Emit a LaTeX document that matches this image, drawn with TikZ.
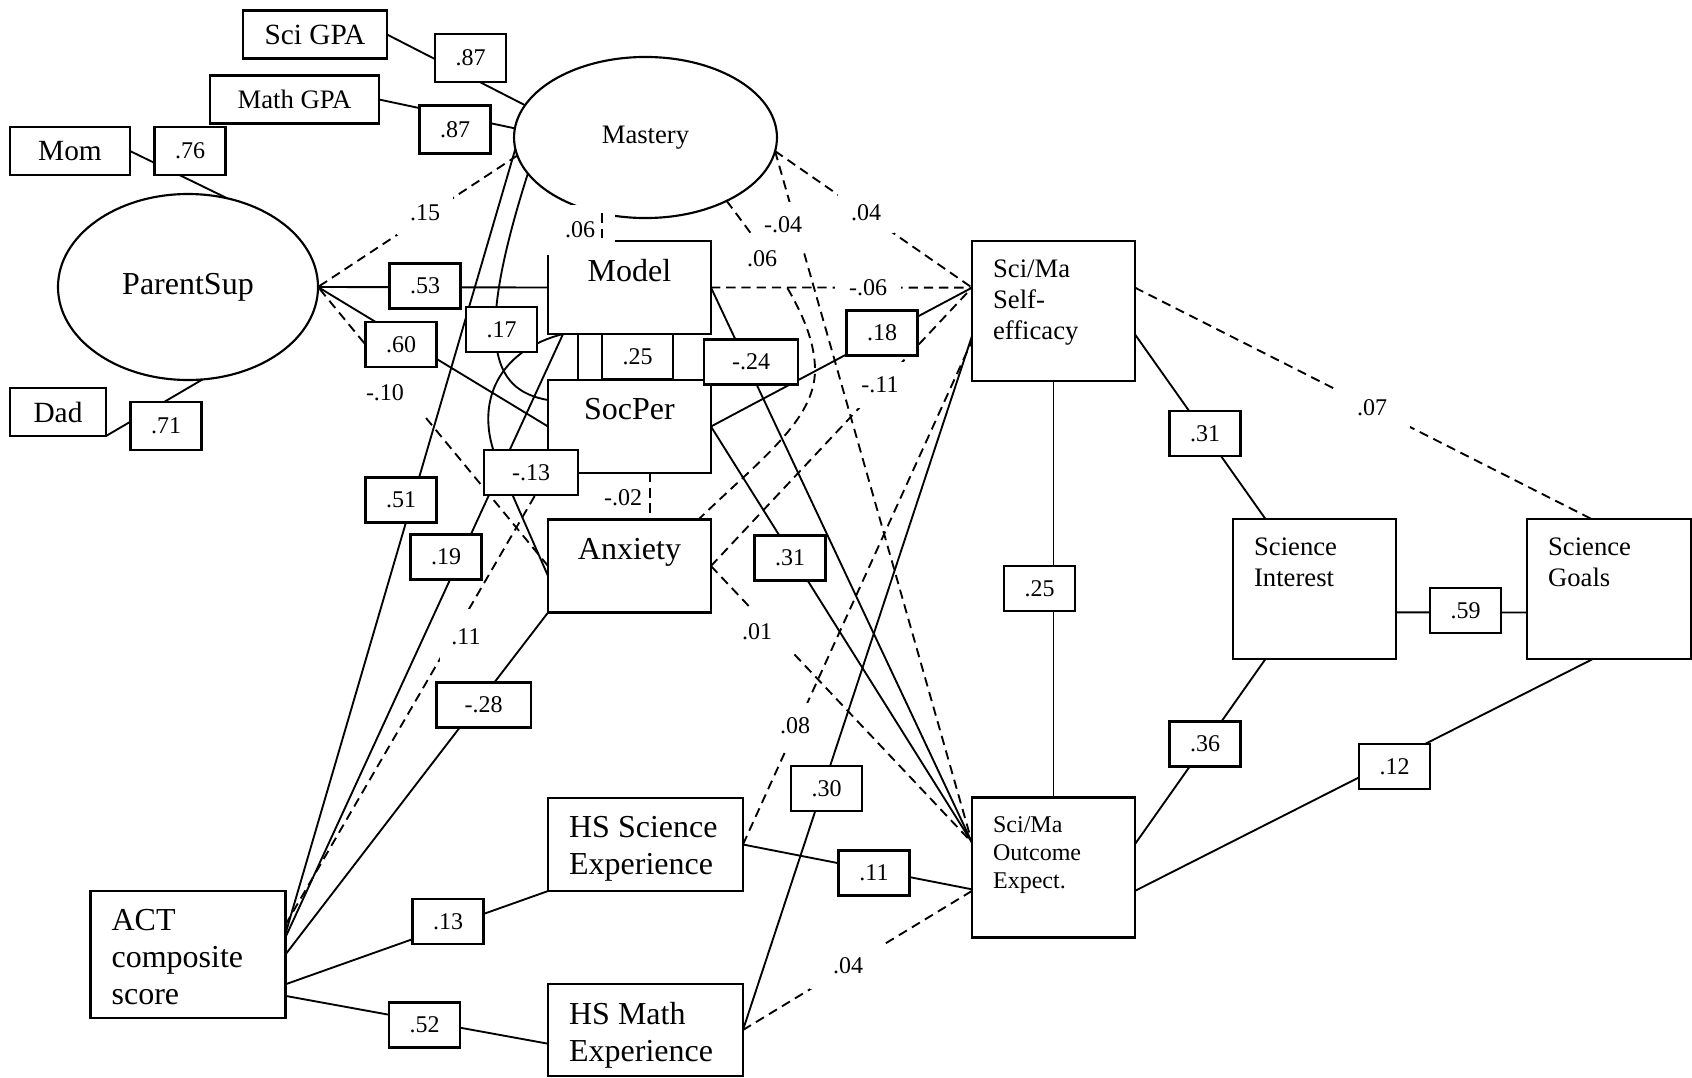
\documentclass[tikz,border=0pt]{standalone}
\usepackage{fontspec}
\setmainfont{Liberation Serif}
\usetikzlibrary{shapes.geometric}
\newcommand{\fbig}{\fontsize{12}{13.8}\selectfont}
\newcommand{\fmid}{\fontsize{10}{11.6}\selectfont}
\newcommand{\fsml}{\fontsize{9}{10.5}\selectfont}
\newcommand{\fgpa}{\fontsize{11}{12.6}\selectfont}
\tikzset{var/.style = {draw, line width=0.8pt, inner sep=0pt, outer sep=0pt,
                       minimum width=61.1pt, minimum height=34.9pt}}
\tikzset{tallvar/.style = {var, minimum height=52.5pt}}
\tikzset{widevar/.style = {var, minimum width=73.1pt}}
\tikzset{obs/.style = {draw, line width=0.8pt, inner sep=0pt, outer sep=0pt,
                       minimum height=18pt, font=\fgpa}}
\tikzset{latent/.style = {draw, ellipse, line width=0.8pt, inner sep=0pt, outer sep=0pt}}
\tikzset{toptext/.style = {anchor=north, inner sep=0pt, yshift=-6.8pt, font=\fbig}}
\tikzset{intext/.style = {anchor=north west, align=left, inner xsep=7.7pt, inner ysep=6.8pt}}
\tikzset{val/.style = {draw, fill=white, line width=0.8pt, inner sep=0pt,
                       minimum width=26.6pt, minimum height=16.9pt, font=\fsml}}
\tikzset{wideval/.style = {val, minimum width=35.3pt}}
\tikzset{free/.style 2 args = {fill=white, inner sep=0pt, minimum width=#1,
                               minimum height=#2, font=\fsml}}
\tikzset{link/.style = {line width=0.7pt}}
\tikzset{dlink/.style = {link, dash pattern=on 3.5pt off 2.2pt}}

\begin{document}
\begin{tikzpicture}[x=0.375pt, y=-0.375pt]
    \useasboundingbox (0,0) rectangle (1692,1078);

    \node [obs, minimum width=54pt] (scigpa) at (315,34.5) {Sci GPA};
    \node [obs, minimum width=63.4pt, font=\fmid] (mathgpa) at (294.5,99.5) {Math GPA};
    \node [obs, minimum width=45pt] (mom) at (70,151) {Mom};
    \node [obs, minimum width=36pt] (dad) at (58,412) {Dad};
    \node [latent, minimum width=97.5pt, minimum height=69.75pt, font=\fbig] (parent) at (188,287) {ParentSup};
    \node [latent, minimum width=98.6pt, minimum height=60.4pt, font=\fmid] (mastery) at (645.5,137.5) {Mastery};

    \node [var] (model) at (629.5,287.5) {};
    \node [toptext] (model-t) at (model.north) {Model};
    \node [var] (socper) at (629.5,426.5) {};
    \node [toptext] (socper-t) at (socper.north) {SocPer};
    \node [var] (anxiety) at (629.5,566) {};
    \node [toptext] (anxiety-t) at (anxiety.north) {Anxiety};

    \node [widevar] (hssci) at (645.5,844.5) {};
    \node [intext, font=\fbig] (hssci-t) at (hssci.north west) {HS Science\\Experience};
    \node [widevar, minimum height=34.5pt] (hsmath) at (645.5,1030) {};
    \node [intext, font=\fbig] (hsmath-t) at (hsmath.north west) {HS Math\\Experience};
    \node [widevar, minimum height=47.6pt] (act) at (188,954.5) {};
    \node [intext, font=\fbig] (act-t) at (act.north west) {ACT\\composite\\score};

    \node [tallvar] (selfeff) at (1053.5,311) {};
    \node [intext, font=\fmid] (selfeff-t) at (selfeff.north west) {Sci/Ma\\Self-\\efficacy};
    \node [tallvar] (outcome) at (1053.5,867.5) {};
    \node [intext, font=\fsml] (outcome-t) at (outcome.north west) {Sci/Ma\\Outcome\\Expect.};
    \node [tallvar] (interest) at (1314.5,589) {};
    \node [intext, font=\fmid] (interest-t) at (interest.north west) {Science\\Interest};
    \node [tallvar, minimum width=61.5pt] (goals) at (1609,589) {};
    \node [intext, font=\fmid] (goals-t) at (goals.north west) {Science\\Goals};

    \draw [link] (mom.east) -- (parent.66);
    \draw [link] (dad.south east) -- (parent.-81);
    \draw [link] (model.west) -- (parent.east);
    \draw [link] (socper.west) -- (parent.east);
    \draw [dlink] (anxiety.west) -- (parent.east);
    \draw [dlink] (mastery.188) -- (parent.east);

    \draw [link] (scigpa.east) -- (mastery.165);
    \draw [link] (mathgpa.east) -- (mastery.176);
    \draw [link] (act.12) -- (mastery.185);
    \draw [link] (mastery.197) .. controls (475,340) and (490,390) .. (socper.162);
    \draw [dlink] (mastery.-38) .. controls (775,265) and (815,320) .. (815,370)
                  .. controls (815,420) and (760,460) .. (anxiety.34);
    \draw [dlink] (mastery.-6) -- (selfeff.164);
    \draw [dlink] (mastery.-6) -- (outcome.163);

    \draw [link] (act.10) -- (model.215);
    \draw [link] (model.215) .. controls (500,350) and (475,400) .. (495,455) -- (anxiety.187);
    \draw [link] (model.222) -- (model.222 |- socper.north);
    \draw [dlink] (model.east) -- (selfeff.164);
    \draw [link] (model.east) -- (outcome.163);

    \draw [link] (socper.east) -- (selfeff.164);
    \draw [link] (socper.east) -- (outcome.163);
    \draw [dlink] (socper.-66) -- (socper.-66 |- anxiety.north);
    \draw [dlink] (act.17) -- (socper.south west);

    \draw [dlink] (anxiety.east) -- (selfeff.164);
    \draw [dlink] (anxiety.east) -- (outcome.163);
    \draw [link] (act.east) -- (anxiety.south west);

    \draw [link] (act.-17) -- (hssci.south west);
    \draw [link] (act.-23) -- (hsmath.188);
    \draw [dlink] (hssci.east) -- (selfeff.200);
    \draw [link] (hssci.east) -- (outcome.195);
    \draw [link] (hsmath.east) -- (selfeff.197);
    \draw [dlink] (hsmath.east) -- (outcome.196);

    \draw [link] (selfeff.south) -- (outcome.north);
    \draw [link] (selfeff.-16) -- (interest.125);
    \draw [dlink] (selfeff.16) -- (goals.104);
    \draw [link] (outcome.16) -- (interest.-125);
    \draw [link] (outcome.-16) -- (goals.-103);
    \draw [link] (interest.-16) -- (goals.196);

    \node [val, minimum height=18pt] (v87a) at (470.5,58) {.87};
    \node [val, minimum height=18pt] (v87b) at (455,129.5) {.87};
    \node [val, minimum height=18pt] (v76) at (190,151) {.76};
    \node [val, minimum height=18pt] (v71) at (166,426) {.71};
    \node [val] (v53) at (425,286) {.53};
    \node [val] (v60) at (401,344.5) {.60};
    \node [val] (v17) at (501.5,329.5) {.17};
    \node [val] (v25a) at (637.5,356.5) {.25};
    \node [wideval] (v24) at (751,362) {-.24};
    \node [wideval] (v13a) at (531,472.5) {-.13};
    \node [val] (v51) at (401,500) {.51};
    \node [val] (v19) at (446,557) {.19};
    \node [wideval] (v28) at (483.5,705) {-.28};
    \node [val] (v13b) at (448,921.5) {.13};
    \node [val] (v52) at (424.5,1025) {.52};
    \node [val] (v18) at (882,333) {.18};
    \node [val] (v31a) at (790,558) {.31};
    \node [val] (v30) at (826.5,788.5) {.30};
    \node [val] (v11) at (874,873) {.11};
    \node [val] (v25b) at (1039.5,588.5) {.25};
    \node [val] (v31b) at (1205,433.5) {.31};
    \node [val] (v36) at (1205,744) {.36};
    \node [val] (v12) at (1394.5,766.5) {.12};
    \node [val] (v59) at (1465.5,610.5) {.59};

    \node [free={21pt}{16.5pt}] (f15) at (425,213) {.15};
    \node [free={24pt}{18pt}, text width=24pt, align=left] (f10) at (398,393) {-.10};
    \node [free={26.25pt}{18.75pt}] (f06a) at (580,230) {.06};
    \node [free={18.75pt}{17.25pt}] (f04a) at (783,225) {-.04};
    \node [free={19.5pt}{19.5pt}] (f06b) at (762,259) {.06};
    \node [free={21pt}{15pt}] (f04b) at (866,213) {.04};
    \node [free={24.4pt}{11.25pt}] (f06c) at (868,288) {-.06};
    \node [free={18.75pt}{17.25pt}] (f11a) at (880,385) {-.11};
    \node [font=\fsml, inner sep=0pt] (f02) at (623,498) {-.02};
    \node [free={19.5pt}{21pt}] (f11b) at (466,637) {.11};
    \node [free={19.5pt}{16.9pt}, text width=19.5pt, align=left] (f01) at (768,632) {.01};
    \node [free={17pt}{17.25pt}] (f08) at (795,726) {.08};
    \node [free={28.5pt}{17.6pt}] (f04c) at (848,966) {.04};
    \node [free={28.5pt}{15pt}] (f07) at (1372,408) {.07};

    \draw [dlink] (mastery.240) -- (mastery.240 |- model.north);
\end{tikzpicture}
\end{document}
